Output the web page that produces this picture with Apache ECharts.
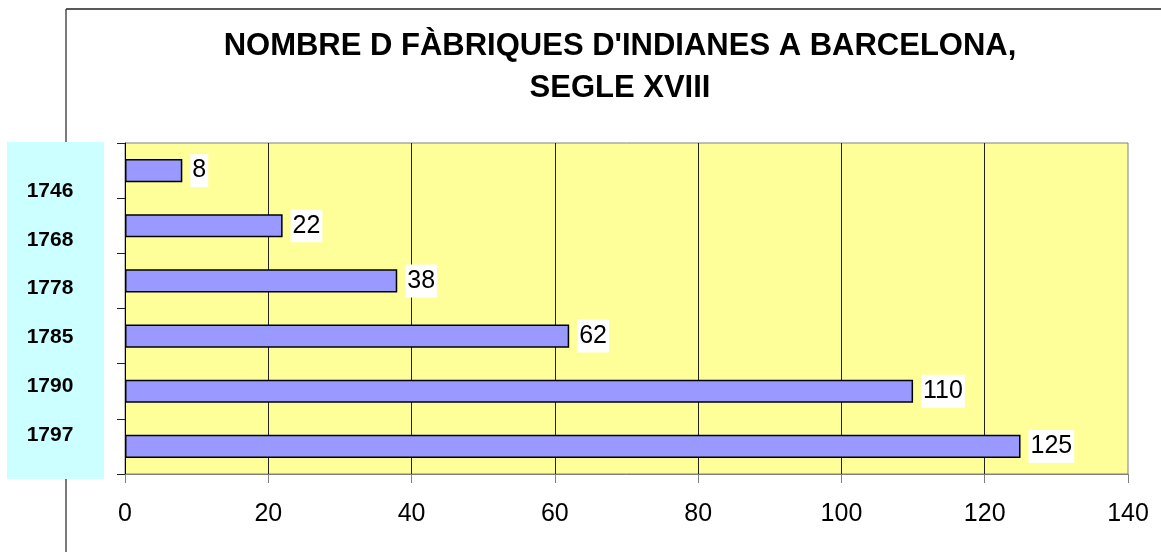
<!DOCTYPE html>
<html>
<head>
<meta charset="utf-8">
<script src="https://cdn.jsdelivr.net/npm/echarts@6/dist/echarts.min.js"></script>
<style>
html,body{margin:0;padding:0;background:#fff;}
#chart{width:1161px;height:552px;}
</style>
</head>
<body>
<div id="chart"></div>
<script>
var titleLines = ["NOMBRE D FÀBRIQUES D'INDIANES A BARCELONA,", "SEGLE XVIII"];
var categories = ["1746", "1768", "1778", "1785", "1790", "1797"];
var values = [8, 22, 38, 62, 110, 125];
var xMin = 0, xMax = 140, xStep = 20;

var FONT = "'Liberation Sans', Arial, sans-serif";
var chart = echarts.init(document.getElementById('chart'), null, {renderer: 'canvas'});
chart.setOption({
  animation: false,
  backgroundColor: '#ffffff',
  title: {
    text: titleLines.join('\n'),
    left: 620,
    top: 26,
    padding: 0,
    textAlign: 'center',
    textStyle: {fontFamily: FONT, fontWeight: 'bold', fontSize: 31, lineHeight: 41.5, color: '#000'}
  },
  graphic: [
    {type: 'line', shape: {x1: 66, y1: 9, x2: 1161, y2: 9}, style: {stroke: '#222', lineWidth: 1.3}, z: 0},
    {type: 'line', shape: {x1: 66, y1: 9, x2: 66, y2: 552}, style: {stroke: '#333', lineWidth: 1.3}, z: 0},
    {type: 'rect', shape: {x: 7, y: 142, width: 97, height: 337}, style: {fill: '#CCFFFF'}, z: 1}
  ],
  grid: [
    {left: 125, right: 33, top: 143, bottom: 78, show: true, backgroundColor: '#FFFF99', borderColor: '#808080', borderWidth: 1},
    {left: 50, right: 1110, top: 166.6, bottom: 92.6, show: false}
  ],
  xAxis: [
    {
      type: 'value', gridIndex: 0, min: xMin, max: xMax, interval: xStep,
      axisLine: {show: true, lineStyle: {color: '#808080', width: 1}},
      axisTick: {show: true, length: 9, lineStyle: {color: '#808080'}},
      axisLabel: {fontFamily: FONT, fontSize: 25, color: '#000', margin: 28},
      splitLine: {show: true, showMinLine: false, showMaxLine: false, lineStyle: {color: '#222', width: 1}}
    },
    {type: 'value', gridIndex: 1, show: false, min: 0, max: 1}
  ],
  yAxis: [
    {
      type: 'category', gridIndex: 0, data: categories, inverse: true,
      axisLine: {show: true, lineStyle: {color: '#000', width: 1}},
      axisTick: {show: true, length: 8, lineStyle: {color: '#222'}},
      axisLabel: {show: false},
      splitLine: {show: false}
    },
    {
      type: 'category', gridIndex: 1, data: categories, inverse: true,
      axisLine: {show: false}, axisTick: {show: false}, splitLine: {show: false},
      axisLabel: {fontFamily: FONT, fontWeight: 'bold', fontSize: 21, color: '#000', margin: 0, align: 'center'},
      z: 5
    }
  ],
  series: [{
    type: 'bar',
    xAxisIndex: 0, yAxisIndex: 0,
    data: values,
    barWidth: '42%',
    itemStyle: {color: '#9999FF', borderColor: '#000', borderWidth: 1.5},
    label: {
      show: true, position: 'right', distance: 8,
      fontFamily: FONT, fontSize: 25, color: '#000',
      backgroundColor: '#fff', padding: [2, 2, 2, 2], lineHeight: 29
    }
  }]
});
</script>
</body>
</html>
